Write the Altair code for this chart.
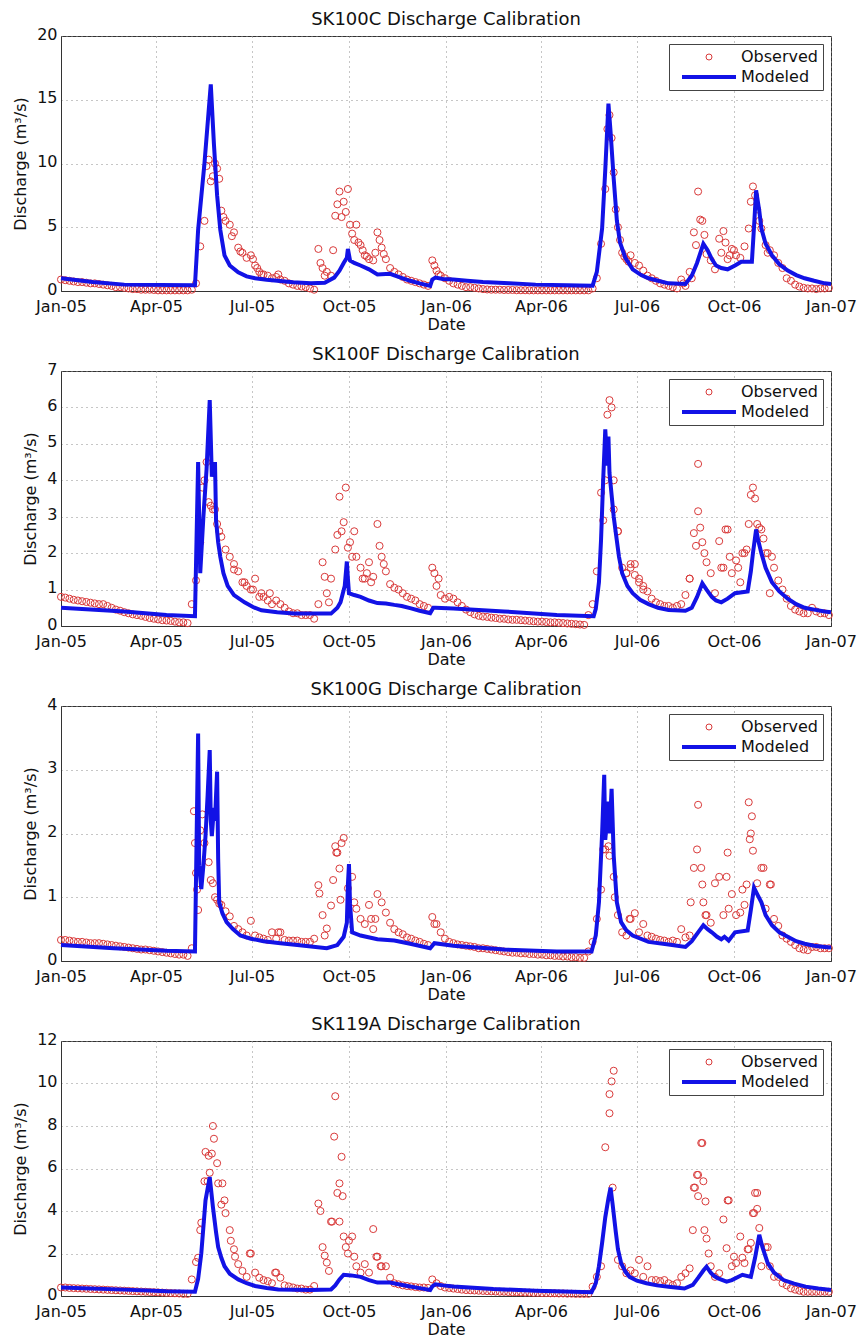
import altair as alt
import pandas as pd

BASE = pd.Timestamp("2005-01-01")
SERIES = ["Observed", "Modeled"]
RED = "#D93A3A"
BLUE = "#1212E6"
FONT = "DejaVu Sans"

# ---------------- SK100C ----------------
# observed discharge, one value every 4 days from 2005-01-01
c_obs = [
    0.9, 0.85, 0.8, 0.75, 0.7, 0.7, 0.65, 0.6, 0.6, 0.55,
    0.5, 0.45, 0.4, 0.3, 0.3, 0.25, 0.2, 0.15, 0.15, 0.1,
    0.1, 0.1, 0.08, 0.05, 0.05, 0.05, 0.05, 0.05, 0.05, 0.05,
    0.05, 0.1, 0.6, 3.5, 5.5, 10.3, 9.0, 9.6, 6.3, 5.5,
    5.2, 4.6, 3.4, 3.0, 2.6, 2.8, 2.0, 1.5, 1.3, 1.2,
    1.0, 1.1, 0.9, 0.8, 0.6, 0.5, 0.4, 0.35, 0.3, 0.2,
    0.1, 3.3, 1.8, 1.5, 1.2, 5.9, 7.8, 7.0, 8.0, 4.5,
    5.2, 3.6, 2.8, 2.5, 2.4, 4.6, 3.4, 2.5, 1.8, 1.5,
    1.3, 1.1, 0.9, 0.8, 0.7, 0.6, 0.5, 0.4, 2.4, 1.6,
    1.2, 1.0, 0.8, 0.6, 0.5, 0.4, 0.3, 0.3, 0.25, 0.2,
    0.15, 0.12, 0.1, 0.1, 0.1, 0.08, 0.08, 0.08, 0.06, 0.06,
    0.06, 0.05, 0.05, 0.05, 0.05, 0.05, 0.05, 0.05, 0.05, 0.05,
    0.05, 0.05, 0.05, 0.05, 0.05, 0.05, 0.2, 1.0, 3.7, 8.0,
    13.8, 9.3, 5.0, 3.0, 2.5, 2.8, 2.2, 2.0, 1.6, 1.2,
    1.0, 0.8, 0.6, 0.5, 0.4, 0.3, 0.2, 0.9, 0.4, 1.5,
    4.6, 7.8, 5.5, 2.9, 2.4, 1.7, 4.1, 4.7, 2.5, 3.3,
    2.8, 2.6, 3.5, 4.9, 8.2, 6.4, 4.9, 3.6, 3.2, 2.8,
    2.2, 1.8, 1.0, 0.8, 0.5, 0.35, 0.25, 0.2, 0.2, 0.15,
    0.2, 0.2, 0.25,
]
c_extra_days = [138, 142, 146, 150, 154, 162, 170, 182, 186, 190, 206, 246, 250, 258, 262,
                266, 270, 274, 278, 282, 286, 290, 298, 302, 306, 354, 358, 518, 522, 526,
                530, 534, 538, 590, 598, 602, 606, 610, 626, 630, 634, 638, 654, 658, 662, 670]
c_extra_vals = [9.8, 8.6, 10.0, 8.8, 5.8, 4.3, 3.1, 2.5, 1.8, 1.3, 1.3, 2.2, 1.2, 3.2, 6.8,
                5.8, 6.2, 5.2, 4.0, 3.8, 3.2, 2.7, 3.0, 4.0, 2.9, 2.0, 1.3, 12.7, 12.0, 6.4,
                4.0, 2.7, 2.3, 0.6, 1.0, 3.6, 5.6, 4.4, 3.0, 3.8, 2.8, 3.2, 7.0, 7.5, 5.5, 3.0]
c_mod_days = [0, 30, 60, 127, 130, 136, 142, 145, 148, 151, 155, 160, 168, 176, 184, 195, 205,
              220, 237, 250, 259, 264, 268, 271, 272, 274, 278, 284, 292, 300, 312, 320, 331,
              340, 350, 352, 355, 362, 372, 385, 400, 425, 450, 480, 504, 508, 513, 516, 519,
              521, 524, 527, 530, 535, 542, 550, 557, 566, 576, 592, 598, 603, 609, 613, 617,
              621, 626, 632, 639, 645, 655, 657, 659, 662, 664, 668, 674, 681, 689, 697, 705,
              714, 724, 730]
c_mod_vals = [1.0, 0.7, 0.5, 0.45, 4.8, 10.0, 16.2, 11.5, 7.5, 4.8, 2.8, 2.0, 1.46, 1.15, 1.0, 0.88, 0.8,
              0.68, 0.6, 0.65, 1.05, 1.6, 2.2, 2.6, 3.3, 2.4, 2.2, 2.0, 1.7, 1.3, 1.35, 1.1, 0.8,
              0.6, 0.4, 0.9, 1.05, 0.95, 0.9, 0.8, 0.7, 0.6, 0.5, 0.45, 0.42, 1.5, 4.9, 9.5, 14.7,
              12.5, 8.8, 5.5, 3.8, 2.6, 1.7, 1.25, 1.0, 0.8, 0.6, 0.55, 1.2, 2.2, 3.7, 3.2, 2.5,
              2.0, 1.8, 1.7, 2.0, 2.3, 2.3, 5.0, 7.9, 6.3, 4.9, 3.7, 2.8, 2.1, 1.6, 1.25, 1.0,
              0.8, 0.6, 0.55]

# ---------------- SK100F ----------------
f_obs = [
    0.8, 0.78, 0.75, 0.72, 0.7, 0.68, 0.66, 0.64, 0.62, 0.6,
    0.6, 0.55, 0.5, 0.45, 0.42, 0.38, 0.35, 0.32, 0.3, 0.28,
    0.25, 0.22, 0.2, 0.18, 0.16, 0.15, 0.14, 0.12, 0.1, 0.1,
    0.08, 0.6, 1.25, 2.3, 4.0, 3.4, 3.2, 2.8, 2.45, 2.1,
    1.9, 1.7, 1.5, 1.2, 1.1, 1.0, 1.3, 0.8, 0.8, 0.7,
    0.6, 0.7, 0.6, 0.5, 0.4, 0.35, 0.35, 0.3, 0.3, 0.3,
    0.2, 0.6, 1.75, 0.9, 1.3, 2.1, 3.55, 2.85, 2.15, 1.9,
    1.9, 1.6, 1.3, 1.75, 1.35, 2.8, 1.9, 1.5, 1.15, 1.05,
    1.0, 0.9, 0.8, 0.75, 0.7, 0.6, 0.55, 0.5, 1.6, 1.1,
    0.85, 0.75, 0.8, 0.75, 0.65, 0.55, 0.45, 0.38, 0.32, 0.28,
    0.26, 0.25, 0.23, 0.22, 0.2, 0.2, 0.18, 0.17, 0.17, 0.16,
    0.15, 0.14, 0.13, 0.12, 0.12, 0.11, 0.1, 0.1, 0.09, 0.08,
    0.07, 0.06, 0.05, 0.04, 0.03, 0.3, 0.6, 1.5, 3.66, 4.0,
    6.2, 4.0, 2.6, 1.6, 1.45, 1.7, 1.4, 1.2, 1.0, 0.95,
    0.75, 0.65, 0.6, 0.55, 0.55, 0.5, 0.55, 0.6, 0.85, 1.3,
    2.55, 4.45, 2.3, 1.75, 1.45, 0.9, 2.33, 1.6, 2.65, 1.45,
    1.8, 1.2, 2.0, 2.8, 3.8, 2.8, 2.65, 2.0, 0.9, 1.6,
    1.25, 1.0, 0.75, 0.55, 0.45, 0.4, 0.35, 0.35, 0.5, 0.4,
    0.35, 0.35, 0.3,
]
f_extra_days = [134, 138, 142, 146, 150, 164, 174, 182, 190, 198, 250, 254, 262, 266, 270,
                274, 278, 286, 290, 294, 302, 306, 354, 358, 514, 518, 522, 524, 528, 536,
                540, 544, 548, 552, 596, 602, 604, 606, 610, 626, 630, 634, 642, 646, 650,
                654, 658, 662, 666, 670, 674]
f_extra_vals = [3.8, 4.5, 3.3, 3.2, 2.6, 1.55, 1.2, 1.0, 0.9, 0.9, 1.35, 0.65, 2.5, 2.6, 3.8,
                2.3, 2.6, 1.3, 1.45, 1.2, 2.2, 1.7, 1.45, 1.3, 2.9, 5.8, 6.0, 3.2, 2.6, 1.45,
                1.6, 1.7, 1.3, 1.1, 1.3, 2.2, 3.15, 2.7, 2.0, 1.6, 2.65, 1.9, 1.6, 2.0, 2.1,
                3.6, 3.5, 2.7, 2.4, 2.0, 1.9]
f_mod_days = [0, 60, 100, 127, 130, 132, 135, 138, 141, 143, 146, 147, 149, 151, 154, 158, 164,
              174, 182, 190, 205, 221, 256, 262, 265, 269, 271, 272, 273, 278, 284, 292, 300,
              308, 316, 323, 331, 340, 350, 353, 355, 372, 420, 470, 505, 507, 510, 512, 514,
              516, 518, 519, 520, 522, 524, 526, 529, 532, 537, 542, 549, 557, 566, 576, 592,
              598, 603, 608, 612, 617, 621, 626, 632, 639, 651, 654, 656, 659, 661, 664, 668,
              674, 681, 689, 697, 705, 714, 724, 730]
f_mod_vals = [0.5, 0.4, 0.3, 0.27, 4.5, 1.45, 3.0, 4.3, 6.2, 4.1, 4.5, 2.9, 2.3, 1.9, 1.45, 1.1, 0.85,
              0.65, 0.52, 0.43, 0.38, 0.34, 0.34, 0.5, 0.65, 1.1, 1.77, 1.3, 0.9, 0.85, 0.8, 0.7, 0.63,
              0.62, 0.58, 0.55, 0.49, 0.42, 0.35, 0.5, 0.5, 0.48, 0.4, 0.3, 0.27, 0.47, 1.2, 2.37, 4.0,
              5.4, 4.4, 5.2, 4.2, 3.6, 3.0, 2.55, 1.9, 1.45, 1.1, 0.9, 0.72, 0.6, 0.5, 0.44, 0.42,
              0.5, 0.8, 1.17, 1.0, 0.8, 0.7, 0.65, 0.75, 0.9, 0.95, 1.5, 2.0, 2.65, 2.35, 2.0, 1.6,
              1.2, 0.95, 0.75, 0.6, 0.5, 0.45, 0.4, 0.38]

# ---------------- SK100G ----------------
g_obs = [
    0.33, 0.33, 0.32, 0.31, 0.3, 0.3, 0.29, 0.28, 0.28, 0.28,
    0.27, 0.26, 0.25, 0.24, 0.23, 0.22, 0.21, 0.2, 0.19, 0.18,
    0.18, 0.17, 0.16, 0.15, 0.14, 0.13, 0.12, 0.11, 0.1, 0.1,
    0.08, 0.2, 1.38, 2.05, 1.85, 1.55, 1.22, 0.96, 0.88, 0.78,
    0.7, 0.55, 0.5, 0.45, 0.4, 0.63, 0.4, 0.37, 0.35, 0.33,
    0.45, 0.35, 0.45, 0.33, 0.32, 0.32, 0.32, 0.3, 0.3, 0.3,
    0.35, 1.19, 0.72, 0.51, 0.87, 1.8, 1.45, 1.93, 1.14, 1.32,
    0.82, 0.66, 0.58, 0.88, 0.5, 1.05, 0.92, 0.76, 0.6, 0.5,
    0.45, 0.42, 0.37, 0.35, 0.32, 0.3, 0.27, 0.25, 0.69, 0.58,
    0.45, 0.35, 0.3, 0.28, 0.26, 0.25, 0.24, 0.23, 0.22, 0.2,
    0.2, 0.19, 0.18, 0.17, 0.16, 0.15, 0.14, 0.13, 0.13, 0.12,
    0.12, 0.11, 0.11, 0.1, 0.1, 0.09, 0.09, 0.08, 0.08, 0.07,
    0.07, 0.06, 0.06, 0.05, 0.05, 0.15, 0.3, 0.66, 1.12, 1.75,
    1.65, 1.32, 0.72, 0.45, 0.4, 0.66, 0.75, 0.45, 0.58, 0.4,
    0.38, 0.35, 0.33, 0.32, 0.3, 0.32, 0.3, 0.5, 0.37, 0.4,
    1.46, 2.45, 1.2, 0.72, 0.6, 1.22, 1.32, 0.72, 1.7, 1.05,
    0.72, 0.76, 0.88, 2.49, 1.73, 1.22, 1.46, 0.82, 1.2, 0.66,
    0.55, 0.4, 0.35, 0.3, 0.25, 0.2, 0.18, 0.17, 0.22, 0.22,
    0.2, 0.2, 0.2,
]
g_extra_days = [126, 127, 129, 130, 134, 142, 146, 150, 206, 245, 250, 258, 261, 262, 265,
                266, 278, 294, 298, 354, 514, 519, 525, 539, 597, 603, 607, 609, 611, 631,
                633, 646, 650, 653, 654, 655, 666, 673]
g_extra_vals = [2.35, 1.85, 1.12, 0.8, 2.3, 1.27, 1.0, 0.9, 0.45, 1.06, 0.4, 1.27, 1.7, 1.7, 0.96,
                1.85, 0.92, 0.66, 0.66, 0.58, 1.75, 1.8, 1.0, 0.66, 0.92, 1.75, 1.46, 0.92, 0.72, 1.32,
                0.82, 1.12, 1.2, 1.91, 2.0, 2.27, 1.46, 1.2]
g_mod_days = [0, 50, 100, 127, 130, 131, 133, 135, 137, 139, 141, 142, 143, 145, 146, 147, 148,
              149, 150, 153, 157, 163, 170, 180, 192, 208, 224, 252, 262, 268, 271, 272, 273,
              274, 276, 284, 300, 316, 331, 350, 354, 372, 420, 470, 503, 507, 510, 513, 515,
              516, 519, 520, 522, 524, 527, 531, 536, 542, 557, 576, 592, 598, 604, 609, 613,
              617, 622, 626, 629, 633, 639, 651, 654, 657, 660, 664, 668, 674, 681, 689, 697,
              705, 714, 724, 730]
g_mod_vals = [0.25, 0.2, 0.16, 0.15, 3.57, 1.5, 1.13, 1.5, 1.96, 2.6, 3.31, 2.2, 1.96, 2.4, 2.2, 2.6,
              2.97, 1.6, 0.92, 0.75, 0.61, 0.5, 0.4, 0.35, 0.31, 0.28, 0.25, 0.2, 0.25, 0.38, 0.6,
              1.2, 1.52, 0.9, 0.45, 0.4, 0.34, 0.32, 0.27, 0.2, 0.28, 0.24, 0.18, 0.15, 0.15, 0.4,
              0.92, 2.0, 2.92, 1.9, 2.5, 2.0, 2.7, 1.65, 0.92, 0.61, 0.48, 0.4, 0.3, 0.26, 0.22,
              0.31, 0.45, 0.56, 0.5, 0.45, 0.38, 0.34, 0.38, 0.32, 0.45, 0.48, 0.8, 1.15, 1.05,
              0.92, 0.72, 0.56, 0.45, 0.38, 0.31, 0.27, 0.24, 0.22, 0.21]

# ---------------- SK119A ----------------
a_obs = [
    0.4, 0.4, 0.38, 0.37, 0.36, 0.35, 0.34, 0.33, 0.32, 0.31,
    0.3, 0.29, 0.28, 0.27, 0.26, 0.25, 0.24, 0.23, 0.22, 0.21,
    0.2, 0.19, 0.18, 0.17, 0.16, 0.15, 0.14, 0.13, 0.12, 0.1,
    0.1, 0.78, 1.6, 3.1, 5.4, 6.6, 8.0, 6.25, 4.3, 3.9,
    3.1, 2.2, 1.5, 1.18, 0.9, 2.0, 1.1, 0.86, 0.75, 0.7,
    0.6, 1.1, 0.86, 0.5, 0.45, 0.4, 0.35, 0.35, 0.3, 0.3,
    0.47, 4.35, 2.3, 1.57, 3.5, 9.4, 5.3, 2.8, 2.0, 2.8,
    1.4, 1.1, 1.5, 1.1, 3.15, 1.85, 1.4, 1.4, 0.86, 0.6,
    0.55, 0.5, 0.47, 0.45, 0.42, 0.4, 0.4, 0.38, 0.78, 0.6,
    0.47, 0.4, 0.38, 0.35, 0.33, 0.3, 0.28, 0.27, 0.26, 0.25,
    0.24, 0.23, 0.22, 0.21, 0.2, 0.2, 0.19, 0.18, 0.18, 0.17,
    0.16, 0.16, 0.15, 0.15, 0.14, 0.14, 0.13, 0.13, 0.12, 0.12,
    0.11, 0.11, 0.1, 0.1, 0.1, 0.1, 0.44, 0.9, 1.4, 7.0,
    9.5, 10.6, 1.7, 1.4, 1.07, 1.2, 1.07, 1.7, 0.9, 1.4,
    0.75, 0.75, 0.7, 0.75, 0.6, 0.52, 0.6, 0.9, 1.07, 1.3,
    5.1, 5.7, 7.2, 2.7, 1.4, 0.9, 1.07, 3.6, 4.5, 1.4,
    1.55, 2.8, 1.55, 2.2, 3.9, 4.85, 1.4, 2.3, 1.4, 0.9,
    0.9, 0.6, 0.5, 0.36, 0.3, 0.25, 0.2, 0.2, 0.2, 0.2,
    0.2, 0.2, 0.2,
]
a_extra_days = [130, 133, 137, 139, 141, 143, 145, 149, 153, 155, 161, 165, 179, 203, 246,
                250, 254, 257, 259, 262, 264, 266, 267, 270, 273, 278, 299, 303, 520, 522,
                523, 599, 601, 603, 604, 607, 609, 610, 611, 614, 631, 633, 638, 646, 651,
                654, 657, 658, 660, 662, 670]
a_extra_vals = [1.8, 3.45, 6.78, 5.4, 5.8, 6.7, 7.4, 5.3, 5.3, 4.5, 2.6, 1.85, 2.0, 1.1, 4.0,
                1.9, 1.18, 3.5, 7.5, 4.85, 3.5, 6.55, 4.7, 2.3, 2.6, 1.85, 1.85, 1.4, 8.6, 10.1,
                5.1, 3.1, 5.1, 5.7, 4.7, 7.2, 5.4, 3.1, 4.45, 2.0, 2.25, 4.5, 1.85, 1.8, 2.2,
                2.5, 3.9, 4.85, 4.1, 3.2, 2.3]
a_mod_days = [0, 60, 100, 127, 130, 133, 137, 141, 144, 147, 149, 152, 155, 160, 168, 176, 184,
              195, 206, 237, 256, 260, 264, 268, 275, 284, 292, 300, 312, 320, 331, 340, 350,
              352, 355, 362, 372, 410, 450, 503, 507, 510, 513, 516, 519, 521, 523, 526, 528,
              531, 535, 539, 546, 555, 565, 576, 591, 599, 604, 609, 612, 616, 619, 623, 631,
              636, 646, 654, 658, 662, 665, 670, 676, 685, 695, 706, 718, 730]
a_mod_vals = [0.4, 0.3, 0.22, 0.2, 0.8, 2.0, 4.5, 5.6, 4.2, 3.0, 2.3, 1.8, 1.4, 1.05, 0.78, 0.6, 0.47,
              0.38, 0.31, 0.28, 0.31, 0.5, 0.78, 1.0, 0.97, 0.9, 0.75, 0.63, 0.63, 0.55, 0.45, 0.37,
              0.28, 0.45, 0.55, 0.5, 0.45, 0.33, 0.25, 0.18, 0.6, 1.4, 2.5, 3.7, 4.6, 5.1, 4.3, 3.0,
              2.2, 1.55, 1.15, 0.9, 0.72, 0.6, 0.5, 0.44, 0.35, 0.52, 0.85, 1.2, 1.38, 1.1, 0.95,
              0.83, 0.68, 0.75, 1.0, 0.9, 1.8, 2.88, 2.3, 1.55, 1.1, 0.75, 0.58, 0.44, 0.35, 0.28]

TICK_DATES = [(2005, 1), (2005, 4), (2005, 7), (2005, 10), (2006, 1), (2006, 4),
              (2006, 7), (2006, 10), (2007, 1)]


def to_dates(days):
    return [(BASE + pd.Timedelta(days=int(d))).strftime("%Y-%m-%d") for d in days]


def dt(y, m):
    return alt.DateTime(year=y, month=m, date=1, utc=True)


def panel(title, obs_grid, ex_days, ex_vals, mod_days, mod_vals, ymax, ystep):
    obs_days = [4 * i for i in range(len(obs_grid))] + list(ex_days)
    obs_vals = list(obs_grid) + list(ex_vals)
    obs = pd.DataFrame({"date": to_dates(obs_days), "q": obs_vals, "series": "Observed"})
    mod = pd.DataFrame({"date": to_dates(mod_days), "q": mod_vals, "series": "Modeled"})

    x = alt.X("date:T",
              scale=alt.Scale(type="utc", domain=[dt(2005, 1), dt(2007, 1)]),
              axis=alt.Axis(values=[dt(y, m) for y, m in TICK_DATES], format="%b-%y",
                            title="Date", labelFlush=False, labelOverlap=False,
                            labelPadding=7, titlePadding=2))
    y = alt.Y("q:Q",
              scale=alt.Scale(domain=[0, ymax], nice=False),
              axis=alt.Axis(values=list(range(0, ymax + 1, ystep)), title="Discharge (m³/s)",
                            labelPadding=4, titlePadding=8, labelFlush=False, labelOffset=-2))
    legend = alt.Legend(title=None, orient="top-right", offset=8, padding=5,
                        strokeColor="#444", fillColor="white", labelFont=FONT,
                        labelFontSize=16, labelColor="#111", symbolSize=36,
                        symbolOffset=27, labelOffset=24, rowPadding=4)
    color = alt.Color("series:N", scale=alt.Scale(domain=SERIES, range=[RED, BLUE]), legend=legend)
    shape = alt.Shape("series:N", scale=alt.Scale(domain=SERIES, range=["circle", "M-9,0H9"]),
                      legend=legend)
    sw = alt.StrokeWidth("series:N", scale=alt.Scale(type="ordinal", domain=SERIES, range=[1, 4]),
                         legend=legend)

    pts = alt.Chart(obs).mark_point(filled=False, size=50, opacity=1).encode(
        x=x, y=y, color=color, shape=shape, strokeWidth=sw)
    line = alt.Chart(mod).mark_line().encode(x=x, y=y, color=color, strokeWidth=sw)
    return alt.layer(pts, line).properties(width=770, height=255, title=title)


p1 = panel("SK100C Discharge Calibration", c_obs, c_extra_days, c_extra_vals,
           c_mod_days, c_mod_vals, 20, 5)
p2 = panel("SK100F Discharge Calibration", f_obs, f_extra_days, f_extra_vals,
           f_mod_days, f_mod_vals, 7, 1)
p3 = panel("SK100G Discharge Calibration", g_obs, g_extra_days, g_extra_vals,
           g_mod_days, g_mod_vals, 4, 1)
p4 = panel("SK119A Discharge Calibration", a_obs, a_extra_days, a_extra_vals,
           a_mod_days, a_mod_vals, 12, 2)

chart = (
    alt.vconcat(p1, p2, p3, p4, spacing=12)
    .resolve_scale(color="independent", shape="independent", strokeWidth="independent")
    .properties(padding={"left": 4, "top": 2, "right": 0, "bottom": 0})
    .configure(font=FONT)
    .configure_axis(labelFont=FONT, titleFont=FONT, labelFontSize=16, titleFontSize=16,
                    titleFontWeight="normal", labelColor="#111", titleColor="#111",
                    grid=True, gridColor="#8c8c8c", gridDash=[1, 4], gridOpacity=1,
                    domainColor="#333", ticks=False)
    .configure_view(stroke="#333", strokeWidth=1)
    .configure_title(font=FONT, fontSize=18, fontWeight="normal", color="#111",
                     offset=-3, anchor="middle")
)

chart.save("out.html", embed_options={"renderer": "svg", "actions": False})
